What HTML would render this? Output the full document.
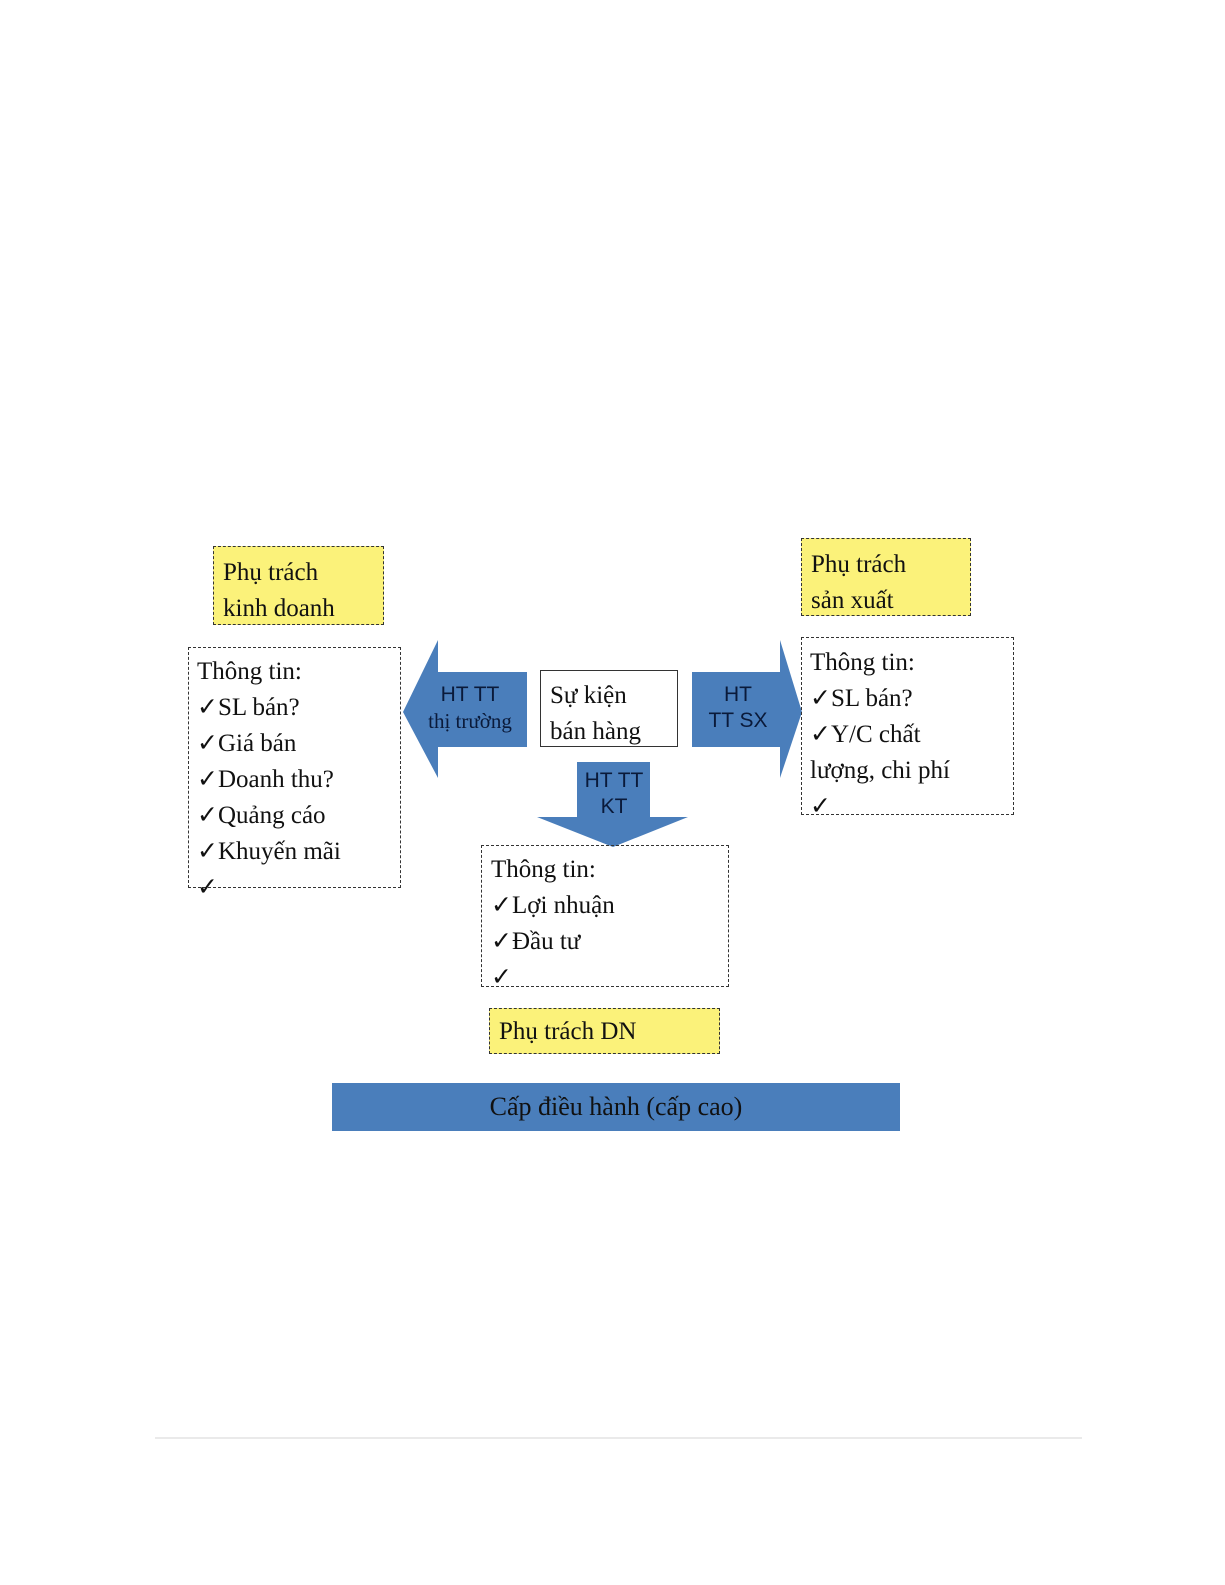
<!DOCTYPE html>
<html><head><meta charset="utf-8"><style>
body{margin:0;width:1225px;height:1585px;background:#fff;position:relative;font-family:"Liberation Serif",serif;color:#111;overflow:hidden}
.b{position:absolute;box-sizing:border-box;border:1.5px dashed #333}
.y{background:#fbf27a}
.t{position:absolute;font-size:25px;line-height:36px;white-space:nowrap}
.s{font-family:"Liberation Sans",sans-serif;color:#0a1a3a;font-size:21px;text-align:center;position:absolute;line-height:26px}
</style></head><body>
<svg width="1225" height="1585" style="position:absolute;left:0;top:0">
<g fill="#4a7ebb">
<polygon points="527,672 438,672 438,640 403,712 438,778 438,747 527,747"/>
<polygon points="692,672 780,672 780,640 802,712 780,778 780,747 692,747"/>
<polygon points="577,762 650,762 650,817 688,817 613,847 537,817 577,817"/>
<rect x="332" y="1083" width="568" height="48"/>
</g>
<line x1="155" y1="1438" x2="1082" y2="1438" stroke="#e4e4e4" stroke-width="1.5"/>
</svg>
<div class="b y" style="left:213px;top:546px;width:171px;height:79px"></div>
<div class="t" style="left:223px;top:555px">Phụ trách<br>kinh doanh</div>
<div class="b" style="left:188px;top:647px;width:213px;height:241px"></div>
<div class="t" style="left:197px;top:654px">Thông tin:<br>✓SL bán?<br>✓Giá bán<br>✓Doanh thu?<br>✓Quảng cáo<br>✓Khuyến mãi<br>✓</div>
<div class="b" style="left:540px;top:670px;width:138px;height:77px;border-style:solid"></div>
<div class="t" style="left:550px;top:678px">Sự kiện<br>bán hàng</div>
<div class="s" style="left:410px;top:682px;width:120px;color:#0a1a3a">HT TT<br><span style="font-family:'Liberation Serif',serif">thị trường</span></div>
<div class="s" style="left:692px;top:682px;width:92px">HT<br>TT SX</div>
<div class="s" style="left:570px;top:768px;width:88px">HT TT<br>KT</div>
<div class="b y" style="left:801px;top:538px;width:170px;height:78px"></div>
<div class="t" style="left:811px;top:547px">Phụ trách<br>sản xuất</div>
<div class="b" style="left:801px;top:637px;width:213px;height:178px"></div>
<div class="t" style="left:810px;top:645px">Thông tin:<br>✓SL bán?<br>✓Y/C chất<br>lượng, chi phí<br>✓</div>
<div class="b" style="left:481px;top:845px;width:248px;height:142px"></div>
<div class="t" style="left:491px;top:852px">Thông tin:<br>✓Lợi nhuận<br>✓Đầu tư<br>✓</div>
<div class="b y" style="left:489px;top:1008px;width:231px;height:46px"></div>
<div class="t" style="left:499px;top:1014px">Phụ trách DN</div>
<div class="t" style="left:332px;top:1089px;width:568px;text-align:center;font-size:26px">Cấp điều hành (cấp cao)</div>
</body></html>
